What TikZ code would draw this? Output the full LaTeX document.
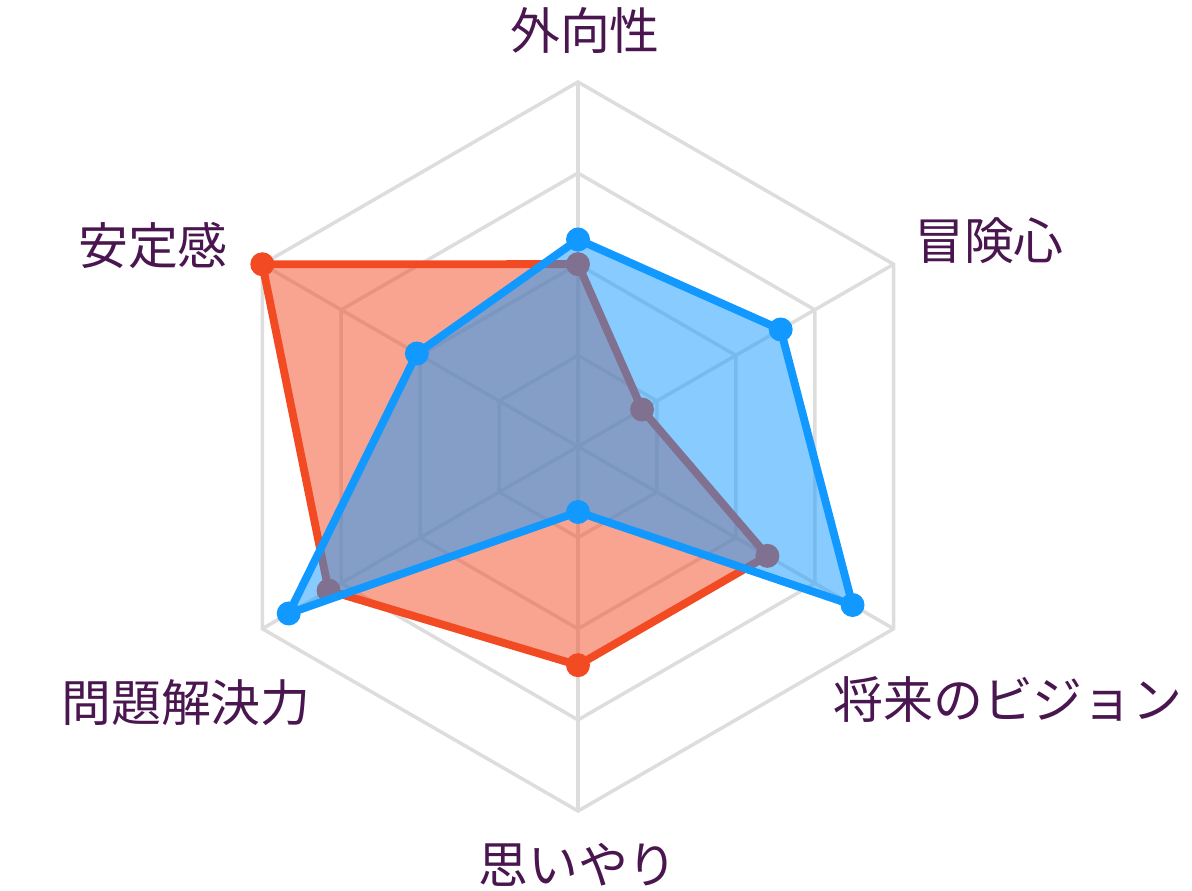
\documentclass[tikz,border=0pt]{standalone}
\usepackage{fontspec}
\setmainfont{Noto Sans CJK JP}
\usepackage{tikz}
\usetikzlibrary{positioning}
\definecolor{gridgray}{HTML}{DDDDDD}
\definecolor{serA}{HTML}{F24A22}
\definecolor{serB}{HTML}{1199FF}
\definecolor{labelcol}{HTML}{4A1650}

\begin{document}
\begin{tikzpicture}[x=0.02cm, y=0.02cm,
	every node/.style={font=\fontsize{28.4}{32}\selectfont, text=labelcol, anchor=base},
	gridline/.style={draw=gridgray, line width=2pt},
	series/.style={line width=4.5pt, line join=round}]
	\useasboundingbox (-578,-444.5) rectangle (614,446.5);
	
	% grid
	\coordinate (o) at (0,0);
	\foreach \r in {91.1,182.3,273.4,364.5}
	\draw[gridline] (90:\r) -- (30:\r) -- (-30:\r) -- (-90:\r) -- (210:\r) -- (150:\r) -- cycle;
	\foreach \a/\n in {90/1,30/2,-30/3,-90/4,210/5,150/6}
	{\coordinate (v\n) at (\a:364.5); \draw[gridline] (o) -- (v\n);}
	
	% data points
	\foreach \a/\n/\ra/\rb in {90/1/182.3/207, 30/2/74/234, -30/3/218.7/317, -90/4/218.7/65.5, 210/5/288/334, 150/6/364.5/186}
	{\coordinate (a\n) at (\a:\ra); \coordinate (b\n) at (\a:\rb);}
	
	\fill[serA, opacity=0.5] (a1) -- (a2) -- (a3) -- (a4) -- (a5) -- (a6) -- cycle;
	\draw[series, serA] (a1) -- (a2) -- (a3) -- (a4) -- (a5) -- (a6) -- cycle;
	\foreach \n in {1,...,6} \fill[serA] (a\n) circle (12);
	
	\fill[serB, opacity=0.5] (b1) -- (b2) -- (b3) -- (b4) -- (b5) -- (b6) -- cycle;
	\draw[series, serB] (b1) -- (b2) -- (b3) -- (b4) -- (b5) -- (b6) -- cycle;
	\foreach \n in {1,...,6} \fill[serB] (b\n) circle (12);
	
	% labels
	\node (lab1) at (7,396.5) {外向性};
	\node (lab2) at (411,186.5) {冒険心};
	\node (lab3) at (430,-271.5) {将来のビジョン};
	\node (lab4) at (0,-436.5) {思いやり};
	\node (lab5) at (-392,-274.5) {問題解決力};
	\node (lab6) at (-425,181.5) {安定感};
\end{tikzpicture}
\end{document}
